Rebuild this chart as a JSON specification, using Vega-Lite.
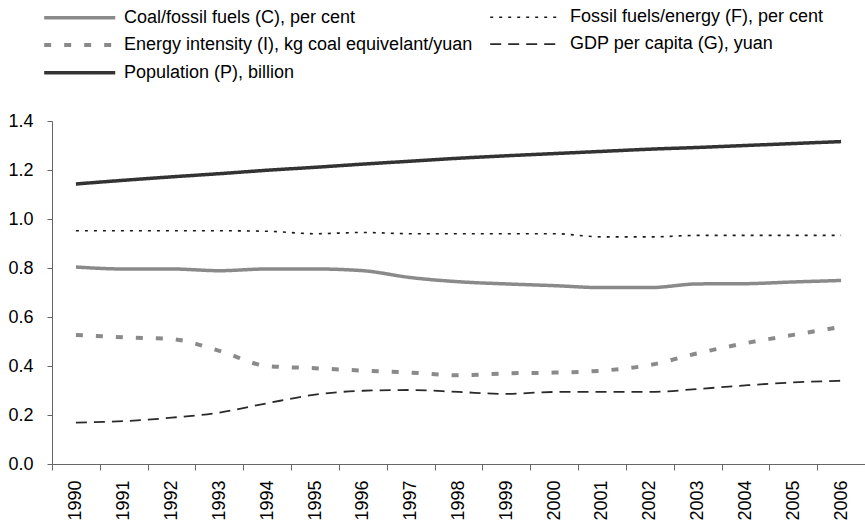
{
  "$schema": "https://vega.github.io/schema/vega-lite/v6.json",
  "autosize": {"type": "none"},
  "padding": {"left": 52, "top": 121, "right": 0, "bottom": 57},
  "width": 813,
  "height": 343,
  "background": "white",
  "config": {
    "view": {"stroke": null},
    "font": "Liberation Sans",
    "legend": {
      "title": null,
      "orient": "none",
      "legendX": -10,
      "legendY": -117,
      "columns": 2,
      "columnPadding": 13,
      "rowPadding": 4.6,
      "padding": 0,
      "symbolType": "M-1,0H5.28",
      "symbolSize": 512,
      "labelFontSize": 18,
      "labelColor": "#000",
      "labelLimit": 600,
      "labelOffset": 55
    }
  },
  "datasets": {
    "rows": [
      {"year": "1990", "series": "Coal/fossil fuels (C), per cent", "value": 0.804},
      {"year": "1991", "series": "Coal/fossil fuels (C), per cent", "value": 0.796},
      {"year": "1992", "series": "Coal/fossil fuels (C), per cent", "value": 0.796},
      {"year": "1993", "series": "Coal/fossil fuels (C), per cent", "value": 0.789},
      {"year": "1994", "series": "Coal/fossil fuels (C), per cent", "value": 0.796},
      {"year": "1995", "series": "Coal/fossil fuels (C), per cent", "value": 0.796},
      {"year": "1996", "series": "Coal/fossil fuels (C), per cent", "value": 0.789},
      {"year": "1997", "series": "Coal/fossil fuels (C), per cent", "value": 0.761},
      {"year": "1998", "series": "Coal/fossil fuels (C), per cent", "value": 0.744},
      {"year": "1999", "series": "Coal/fossil fuels (C), per cent", "value": 0.735},
      {"year": "2000", "series": "Coal/fossil fuels (C), per cent", "value": 0.728},
      {"year": "2001", "series": "Coal/fossil fuels (C), per cent", "value": 0.72},
      {"year": "2002", "series": "Coal/fossil fuels (C), per cent", "value": 0.72},
      {"year": "2003", "series": "Coal/fossil fuels (C), per cent", "value": 0.735},
      {"year": "2004", "series": "Coal/fossil fuels (C), per cent", "value": 0.736},
      {"year": "2005", "series": "Coal/fossil fuels (C), per cent", "value": 0.743},
      {"year": "2006", "series": "Coal/fossil fuels (C), per cent", "value": 0.749},
      {"year": "1990", "series": "Fossil fuels/energy (F), per cent", "value": 0.952},
      {"year": "1991", "series": "Fossil fuels/energy (F), per cent", "value": 0.952},
      {"year": "1992", "series": "Fossil fuels/energy (F), per cent", "value": 0.952},
      {"year": "1993", "series": "Fossil fuels/energy (F), per cent", "value": 0.952},
      {"year": "1994", "series": "Fossil fuels/energy (F), per cent", "value": 0.95},
      {"year": "1995", "series": "Fossil fuels/energy (F), per cent", "value": 0.94},
      {"year": "1996", "series": "Fossil fuels/energy (F), per cent", "value": 0.945},
      {"year": "1997", "series": "Fossil fuels/energy (F), per cent", "value": 0.94},
      {"year": "1998", "series": "Fossil fuels/energy (F), per cent", "value": 0.94},
      {"year": "1999", "series": "Fossil fuels/energy (F), per cent", "value": 0.94},
      {"year": "2000", "series": "Fossil fuels/energy (F), per cent", "value": 0.94},
      {"year": "2001", "series": "Fossil fuels/energy (F), per cent", "value": 0.927},
      {"year": "2002", "series": "Fossil fuels/energy (F), per cent", "value": 0.927},
      {"year": "2003", "series": "Fossil fuels/energy (F), per cent", "value": 0.933},
      {"year": "2004", "series": "Fossil fuels/energy (F), per cent", "value": 0.933},
      {"year": "2005", "series": "Fossil fuels/energy (F), per cent", "value": 0.933},
      {"year": "2006", "series": "Fossil fuels/energy (F), per cent", "value": 0.933},
      {"year": "1990", "series": "Energy intensity (I), kg coal equivelant/yuan", "value": 0.527},
      {"year": "1991", "series": "Energy intensity (I), kg coal equivelant/yuan", "value": 0.517},
      {"year": "1992", "series": "Energy intensity (I), kg coal equivelant/yuan", "value": 0.51},
      {"year": "1993", "series": "Energy intensity (I), kg coal equivelant/yuan", "value": 0.462},
      {"year": "1994", "series": "Energy intensity (I), kg coal equivelant/yuan", "value": 0.4},
      {"year": "1995", "series": "Energy intensity (I), kg coal equivelant/yuan", "value": 0.391},
      {"year": "1996", "series": "Energy intensity (I), kg coal equivelant/yuan", "value": 0.381},
      {"year": "1997", "series": "Energy intensity (I), kg coal equivelant/yuan", "value": 0.373},
      {"year": "1998", "series": "Energy intensity (I), kg coal equivelant/yuan", "value": 0.362},
      {"year": "1999", "series": "Energy intensity (I), kg coal equivelant/yuan", "value": 0.37},
      {"year": "2000", "series": "Energy intensity (I), kg coal equivelant/yuan", "value": 0.373},
      {"year": "2001", "series": "Energy intensity (I), kg coal equivelant/yuan", "value": 0.381},
      {"year": "2002", "series": "Energy intensity (I), kg coal equivelant/yuan", "value": 0.404},
      {"year": "2003", "series": "Energy intensity (I), kg coal equivelant/yuan", "value": 0.452},
      {"year": "2004", "series": "Energy intensity (I), kg coal equivelant/yuan", "value": 0.493},
      {"year": "2005", "series": "Energy intensity (I), kg coal equivelant/yuan", "value": 0.527},
      {"year": "2006", "series": "Energy intensity (I), kg coal equivelant/yuan", "value": 0.56},
      {"year": "1990", "series": "GDP per capita (G), yuan", "value": 0.169},
      {"year": "1991", "series": "GDP per capita (G), yuan", "value": 0.175},
      {"year": "1992", "series": "GDP per capita (G), yuan", "value": 0.189},
      {"year": "1993", "series": "GDP per capita (G), yuan", "value": 0.21},
      {"year": "1994", "series": "GDP per capita (G), yuan", "value": 0.248},
      {"year": "1995", "series": "GDP per capita (G), yuan", "value": 0.283},
      {"year": "1996", "series": "GDP per capita (G), yuan", "value": 0.299},
      {"year": "1997", "series": "GDP per capita (G), yuan", "value": 0.302},
      {"year": "1998", "series": "GDP per capita (G), yuan", "value": 0.294},
      {"year": "1999", "series": "GDP per capita (G), yuan", "value": 0.286},
      {"year": "2000", "series": "GDP per capita (G), yuan", "value": 0.294},
      {"year": "2001", "series": "GDP per capita (G), yuan", "value": 0.294},
      {"year": "2002", "series": "GDP per capita (G), yuan", "value": 0.294},
      {"year": "2003", "series": "GDP per capita (G), yuan", "value": 0.306},
      {"year": "2004", "series": "GDP per capita (G), yuan", "value": 0.321},
      {"year": "2005", "series": "GDP per capita (G), yuan", "value": 0.333},
      {"year": "2006", "series": "GDP per capita (G), yuan", "value": 0.34},
      {"year": "1990", "series": "Population (P), billion", "value": 1.143},
      {"year": "1991", "series": "Population (P), billion", "value": 1.158},
      {"year": "1992", "series": "Population (P), billion", "value": 1.172},
      {"year": "1993", "series": "Population (P), billion", "value": 1.185},
      {"year": "1994", "series": "Population (P), billion", "value": 1.199},
      {"year": "1995", "series": "Population (P), billion", "value": 1.211},
      {"year": "1996", "series": "Population (P), billion", "value": 1.224},
      {"year": "1997", "series": "Population (P), billion", "value": 1.236},
      {"year": "1998", "series": "Population (P), billion", "value": 1.248},
      {"year": "1999", "series": "Population (P), billion", "value": 1.258},
      {"year": "2000", "series": "Population (P), billion", "value": 1.267},
      {"year": "2001", "series": "Population (P), billion", "value": 1.276},
      {"year": "2002", "series": "Population (P), billion", "value": 1.285},
      {"year": "2003", "series": "Population (P), billion", "value": 1.292},
      {"year": "2004", "series": "Population (P), billion", "value": 1.3},
      {"year": "2005", "series": "Population (P), billion", "value": 1.308},
      {"year": "2006", "series": "Population (P), billion", "value": 1.316}
    ]
  },
  "data": {"name": "rows"},
  "mark": {"type": "line", "interpolate": "monotone"},
  "encoding": {
    "x": {
      "field": "year",
      "type": "ordinal",
      "scale": {"type": "band", "paddingInner": 0, "paddingOuter": 0},
      "axis": {
        "title": null,
        "labelAngle": 270,
        "labelAlign": "right",
        "labelBaseline": "middle",
        "labelFontSize": 18,
        "labelColor": "#000",
        "labelPadding": 10,
        "tickBand": "extent",
        "tickSize": 6,
        "tickColor": "#666",
        "domainColor": "#666",
        "grid": false
      }
    },
    "y": {
      "field": "value",
      "type": "quantitative",
      "scale": {"domain": [0, 1.4], "nice": false, "zero": true},
      "axis": {
        "title": null,
        "values": [0, 0.2, 0.4, 0.6, 0.8, 1.0, 1.2, 1.4],
        "format": ".1f",
        "labelFontSize": 18,
        "labelColor": "#000",
        "labelPadding": 14,
        "tickSize": 5,
        "tickColor": "#666",
        "domainColor": "#666",
        "grid": false
      }
    },
    "color": {
      "field": "series",
      "type": "nominal",
      "scale": {
        "domain": ["Coal/fossil fuels (C), per cent", "Energy intensity (I), kg coal equivelant/yuan", "Population (P), billion", "Fossil fuels/energy (F), per cent", "GDP per capita (G), yuan"],
        "range": ["#8a8a8a", "#8a8a8a", "#333333", "#1a1a1a", "#2a2a2a"]
      }
    },
    "strokeDash": {
      "field": "series",
      "type": "nominal",
      "scale": {
        "domain": ["Coal/fossil fuels (C), per cent", "Energy intensity (I), kg coal equivelant/yuan", "Population (P), billion", "Fossil fuels/energy (F), per cent", "GDP per capita (G), yuan"],
        "range": [[1, 0], [7, 13], [1, 0], [3, 6], [11, 7]]
      }
    },
    "strokeWidth": {
      "field": "series",
      "type": "nominal",
      "scale": {
        "type": "ordinal",
        "domain": ["Coal/fossil fuels (C), per cent", "Energy intensity (I), kg coal equivelant/yuan", "Population (P), billion", "Fossil fuels/energy (F), per cent", "GDP per capita (G), yuan"],
        "range": [3.5, 4, 3.5, 1.6, 1.8]
      }
    }
  }
}
